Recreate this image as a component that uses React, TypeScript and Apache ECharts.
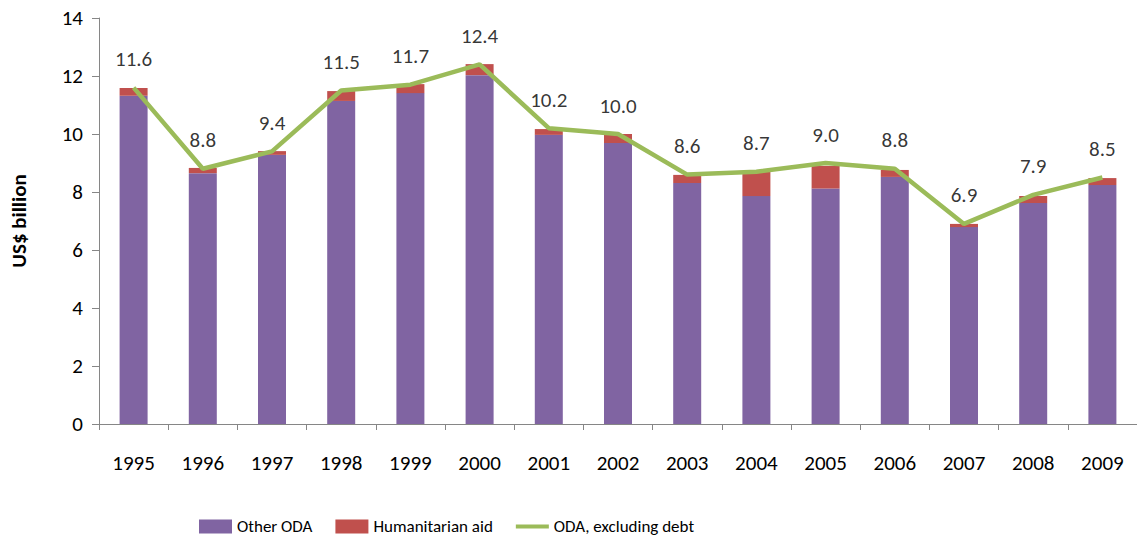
import React, { useEffect, useRef } from "react";
import * as echarts from "echarts";

const years = ["1995","1996","1997","1998","1999","2000","2001","2002","2003","2004","2005","2006","2007","2008","2009"];
const otherODA = [11.32, 8.65, 9.28, 11.14, 11.41, 12.03, 9.97, 9.69, 8.31, 7.86, 8.12, 8.52, 6.79, 7.62, 8.24];
const humanitarian = [0.27, 0.18, 0.13, 0.34, 0.31, 0.38, 0.2, 0.31, 0.28, 0.83, 0.78, 0.24, 0.11, 0.24, 0.24];
const odaExDebt = [11.6, 8.8, 9.4, 11.5, 11.7, 12.4, 10.2, 10.0, 8.6, 8.7, 9.0, 8.8, 6.9, 7.9, 8.5];

const FONT = "Carlito, Lato, 'Open Sans', sans-serif";

export default function App() {
  const ref = useRef<HTMLDivElement>(null);
  useEffect(() => {
    const chart = echarts.init(ref.current!, null, { renderer: "svg" });
    chart.setOption({
      animation: false,
      textStyle: { fontFamily: FONT },
      grid: { left: 99, right: -6, top: 18, bottom: 115, containLabel: false },
      legend: {
        top: 513,
        left: 194,
        itemGap: 23,
        itemWidth: 33,
        itemHeight: 14,
        textStyle: { fontSize: 17, color: "#000", fontFamily: FONT },
        data: [
          { name: "Other ODA", icon: "rect" },
          { name: "Humanitarian aid", icon: "rect" },
          { name: "ODA, excluding debt", icon: "path://M0,0H34V4H0Z" },
        ],
      },
      xAxis: {
        type: "category",
        data: years,
        axisLine: { lineStyle: { color: "#868686", width: 1 } },
        axisTick: { show: true, length: 6, lineStyle: { color: "#868686" } },
        axisLabel: { fontSize: 21, color: "#000", margin: 28, fontFamily: FONT },
      },
      yAxis: {
        type: "value",
        min: 0,
        max: 14,
        interval: 2,
        name: "US$ billion",
        nameLocation: "middle",
        nameGap: 70,
        nameTextStyle: { fontSize: 21, fontWeight: "bold", color: "#000", fontFamily: FONT },
        axisLine: { show: true, lineStyle: { color: "#868686", width: 1 } },
        axisTick: { show: true, length: 7, lineStyle: { color: "#868686" } },
        splitLine: { show: false },
        axisLabel: { fontSize: 21, color: "#000", margin: 16, fontFamily: FONT },
      },
      series: [
        {
          name: "Other ODA",
          type: "bar",
          stack: "oda",
          data: otherODA,
          barWidth: 28,
          itemStyle: { color: "#8064A2" },
        },
        {
          name: "Humanitarian aid",
          type: "bar",
          stack: "oda",
          data: humanitarian,
          barWidth: 28,
          itemStyle: { color: "#C0504D" },
        },
        {
          name: "ODA, excluding debt",
          type: "line",
          data: odaExDebt,
          symbol: "none",
          lineStyle: { color: "#9BBB59", width: 4.5 },
          itemStyle: { color: "#9BBB59" },
        },
        {
          name: "ODA labels",
          type: "scatter",
          data: odaExDebt,
          symbolSize: 0,
          silent: true,
          itemStyle: { color: "#9BBB59" },
          label: {
            show: true,
            position: "top",
            distance: 18,
            fontSize: 21,
            color: "#000",
            fontFamily: FONT,
            formatter: (p: any) => Number(p.value).toFixed(1),
          },
        },
      ],
    });
    return () => chart.dispose();
  }, []);
  return <div ref={ref} style={{ width: 1137, height: 539, position: "absolute", left: 0, top: 0 }} />;
}
